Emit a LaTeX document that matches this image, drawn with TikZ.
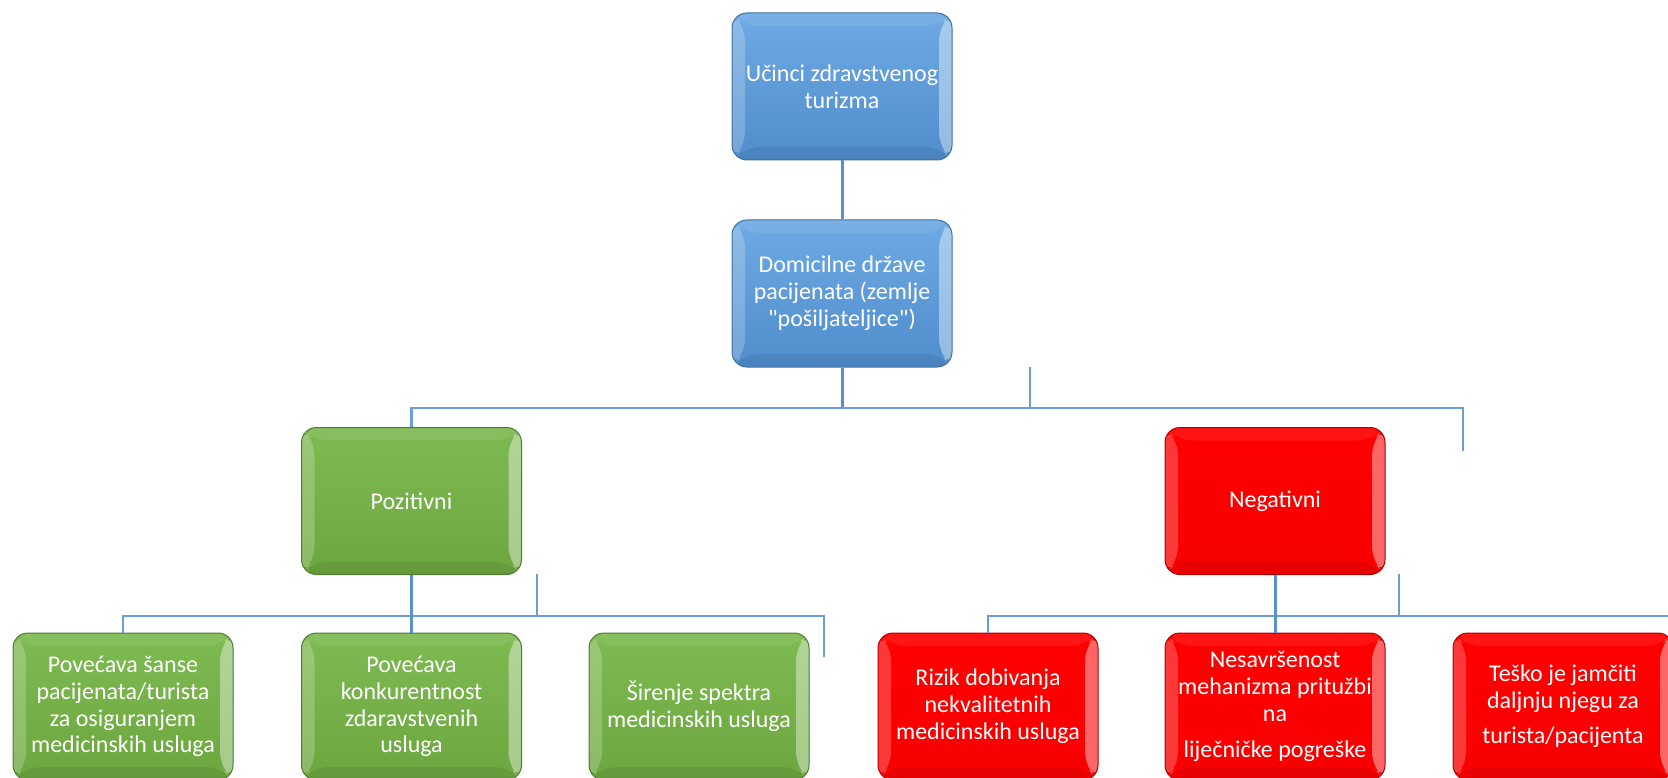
\documentclass[tikz,border=0pt]{standalone}
\usepackage{fontspec}
\setmainfont{Carlito}[Ligatures=TeXOff]
\definecolor{bT}{HTML}{6EAAE4}
\definecolor{bB}{HTML}{4F8DCC}
\definecolor{bD}{HTML}{41719C}
\definecolor{gT}{HTML}{7EBA52}
\definecolor{gB}{HTML}{6CA63E}
\definecolor{gD}{HTML}{4E7B30}
\definecolor{rT}{HTML}{FF0000}
\definecolor{rB}{HTML}{F80000}
\definecolor{rD}{HTML}{B00000}
\definecolor{lnV}{HTML}{5A90CC}
\definecolor{lnH}{HTML}{6A9FD6}
\tikzset{
  bevel/.style={path picture={
    \fill[white,opacity=.22] (path picture bounding box.north west) -- ++(13pt,-13pt)
      -- ([xshift=13pt,yshift=13pt]path picture bounding box.south west)
      -- (path picture bounding box.south west) -- cycle;
    \fill[white,opacity=.40] (path picture bounding box.north east) -- ++(-13pt,-13pt)
      -- ([xshift=-13pt,yshift=13pt]path picture bounding box.south east)
      -- (path picture bounding box.south east) -- cycle;
    \fill[white,opacity=.08] (path picture bounding box.north west) -- ++(13pt,-13pt)
      -- ([xshift=-13pt,yshift=-13pt]path picture bounding box.north east)
      -- (path picture bounding box.north east) -- cycle;
    \fill[black,opacity=.07] (path picture bounding box.south west) -- ++(13pt,13pt)
      -- ([xshift=-13pt,yshift=13pt]path picture bounding box.south east)
      -- (path picture bounding box.south east) -- cycle;
  }},
  box/.style={rounded corners=15pt, minimum width=220pt, minimum height=147pt,
    text width=218pt, inner sep=0pt, align=center, text=white,
    font=\fontsize{24}{26.8}\selectfont,
    execute at begin node={\spaceskip=0.226em\relax},
    line width=1pt, bevel},
  bluebox/.style={box, draw=bD, top color=bT, bottom color=bB},
  greenbox/.style={box, draw=gD, top color=gT, bottom color=gB},
  redbox/.style={box, draw=rD, top color=rT, bottom color=rB},
  stem/.style={draw=lnV, line width=3pt},
  bar/.style={draw=lnH, line width=2.4pt},
}
\begin{document}
\begin{tikzpicture}[x=1pt,y=-1pt]
\useasboundingbox (0,0) rectangle (1668,778);
\clip (0,0) rectangle (1668,778);
% nodes
\node[bluebox] (A) at (842,86.5) {Učinci zdravstvenog\\turizma};
\node[bluebox] (B) at (842,293.5) {Domicilne države\\pacijenata (zemlje\\"pošiljateljice")};
\node[greenbox] (P) at (411.5,501) {Pozitivni};
\node[redbox] (N) at (1275,501) {Negativni};
\node[greenbox] (P1) at (123,706.5) {Povećava šanse\\pacijenata/turista\\za osiguranjem\\medicinskih usluga};
\node[greenbox] (P2) at (411.5,706.5) {Povećava\\konkurentnost\\zdaravstvenih\\usluga};
\node[greenbox] (P3) at (699,706.5) {Širenje spektra\\medicinskih usluga};
\node[redbox] (N1) at (988,706.5) {Rizik dobivanja\\nekvalitetnih\\medicinskih usluga};
\node[redbox] (N2) at (1275,706.5) {Nesavršenost\\mehanizma pritužbi\\na\\[9pt]liječničke pogreške};
\node[redbox] (N3) at (1563,706.5) {Teško je jamčiti\\daljnju njegu za\\[8pt]turista/pacijenta};
% free-end coordinates
\coordinate (j1) at (842,408);
\coordinate (j1L) at (411.5,408);
\coordinate (j1R) at (1463,408);
\coordinate (j1Rend) at (1463,451);
\coordinate (t1top) at (1030,367);
\coordinate (t1) at (1030,408);
\coordinate (jPL) at (123,616);
\coordinate (jPR) at (824,616);
\coordinate (jPRend) at (824,657);
\coordinate (tPtop) at (537,574);
\coordinate (tP) at (537,616);
\coordinate (jNL) at (988,616);
\coordinate (jNR) at (1672,616);
\coordinate (tNtop) at (1399,574);
\coordinate (tN) at (1399,616);
% connectors
\path[stem] (A.south) -- (B.north);
\path[stem] (B.south) -- (j1);
\path[bar] (t1top) -- (t1);
\path[bar] (P.north) -- (j1L) -- (j1R) -- (j1Rend);
\path[bar] (P1.north) -- (jPL) -- (jPR) -- (jPRend);
\path[stem] (P.south) -- (P2.north);
\path[bar] (tPtop) -- (tP);
\path[bar] (N1.north) -- (jNL) -- (jNR);
\path[stem] (N.south) -- (N2.north);
\path[bar] (tNtop) -- (tN);
\end{tikzpicture}
\end{document}
